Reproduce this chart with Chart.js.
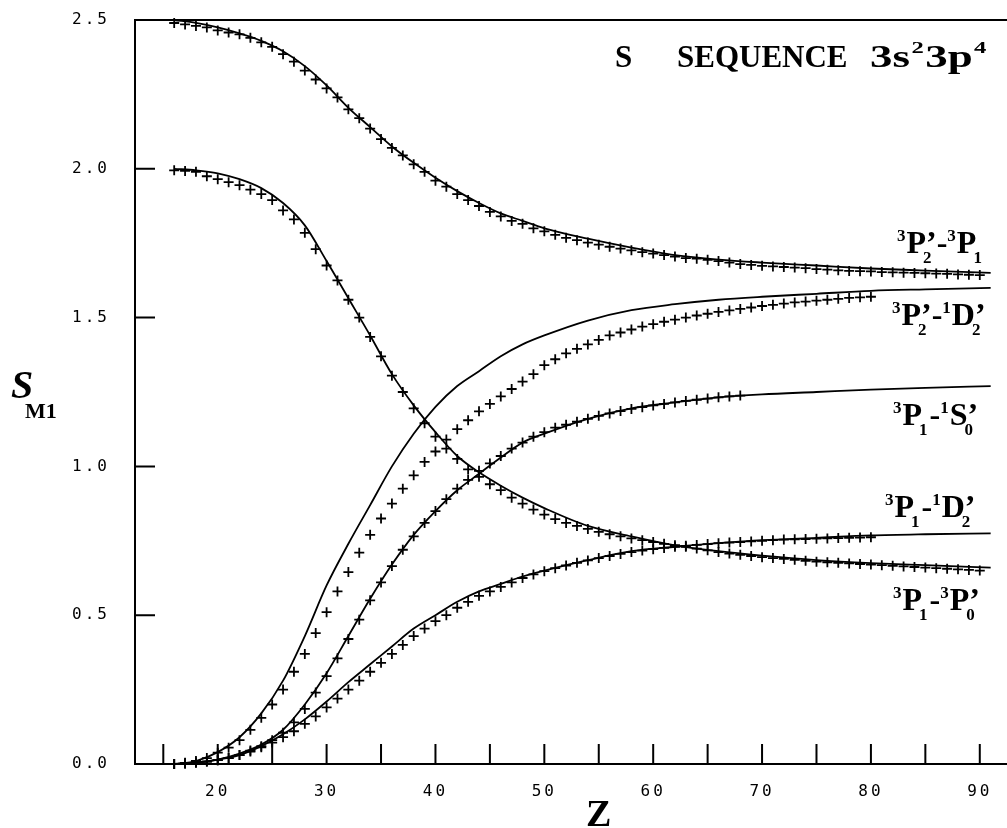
<!DOCTYPE html>
<html>
<head>
<meta charset="utf-8">
<script src="https://cdn.jsdelivr.net/npm/chart.js@4.4.1/dist/chart.umd.min.js"></script>
<style>
  html, body { margin: 0; padding: 0; background: #fff; }
  #wrap { width: 1007px; height: 828px; position: relative; }
</style>
</head>
<body>
<div id="wrap"><canvas id="chart"></canvas></div>
<script>
// Z values of the plotted points (+) and of the calculated curves
var zPoints = [16,17,18,19,20,21,22,23,24,25,26,27,28,29,30,31,32,33,34,35,
  36,37,38,39,40,41,42,43,44,45,46,47,48,49,50,51,52,53,54,55,
  56,57,58,59,60,61,62,63,64,65,66,67,68,69,70,71,72,73,74,75,
  76,77,78,79,80,81,82,83,84,85,86,87,88,89,90];
var zCurve = [16,18,20,22,24,26,28,30,32,34,36,38,40,42,44,46,48,50,54,58,62,66,70,75,80,85,91];

// 3P'2 - 3P1
var p2p1Curve = [2.50,2.49,2.475,2.455,2.43,2.395,2.345,2.28,2.205,2.14,2.075,2.02,1.97,1.925,1.885,1.85,1.825,1.80,1.765,1.735,1.71,1.695,1.685,1.675,1.665,1.658,1.65];
var p2p1Points = [2.49,2.485,2.48,2.475,2.465,2.458,2.452,2.44,2.425,2.41,
  2.385,2.36,2.33,2.30,2.27,2.24,2.20,2.17,2.135,2.10,
  2.07,2.045,2.015,1.99,1.96,1.94,1.915,1.895,1.875,1.855,
  1.84,1.825,1.815,1.80,1.79,1.778,1.768,1.76,1.752,1.745,
  1.738,1.732,1.726,1.72,1.715,1.71,1.705,1.70,1.698,1.694,
  1.69,1.685,1.68,1.677,1.674,1.672,1.67,1.668,1.666,1.663,
  1.661,1.659,1.657,1.656,1.655,1.653,1.652,1.651,1.65,1.649,
  1.648,1.647,1.645,1.644,1.643];

// 3P1 - 3P'0
var p1p0Curve = [2.00,1.995,1.985,1.965,1.935,1.885,1.81,1.69,1.565,1.44,1.31,1.205,1.115,1.035,0.98,0.935,0.895,0.86,0.80,0.765,0.735,0.715,0.70,0.685,0.675,0.668,0.66];
var p1p0Points = [1.995,1.993,1.99,1.975,1.965,1.955,1.945,1.93,1.915,1.895,
  1.86,1.83,1.785,1.73,1.675,1.625,1.56,1.50,1.435,1.37,
  1.305,1.25,1.195,1.145,1.10,1.06,1.025,0.99,0.965,0.94,
  0.92,0.895,0.875,0.855,0.838,0.823,0.81,0.80,0.79,0.78,
  0.772,0.765,0.758,0.752,0.746,0.74,0.735,0.73,0.724,0.718,
  0.712,0.707,0.703,0.699,0.695,0.692,0.689,0.686,0.683,0.68,
  0.678,0.676,0.674,0.672,0.67,0.668,0.666,0.664,0.662,0.66,
  0.658,0.656,0.654,0.652,0.65];

// 3P'2 - 1D'2
var p2d2Curve = [0.0,0.01,0.04,0.09,0.17,0.28,0.43,0.60,0.74,0.87,1.00,1.11,1.20,1.27,1.32,1.37,1.41,1.44,1.49,1.525,1.545,1.56,1.57,1.58,1.59,1.595,1.60];
var p2d2Points = [0.0,0.004,0.01,0.02,0.038,0.055,0.08,0.115,0.155,0.20,
  0.25,0.31,0.37,0.44,0.51,0.58,0.645,0.71,0.77,0.825,
  0.875,0.925,0.97,1.015,1.05,1.09,1.125,1.155,1.185,1.21,
  1.235,1.26,1.285,1.31,1.34,1.36,1.38,1.395,1.41,1.425,
  1.44,1.45,1.46,1.47,1.478,1.486,1.493,1.50,1.507,1.513,
  1.519,1.524,1.529,1.534,1.539,1.543,1.547,1.551,1.554,1.557,
  1.56,1.563,1.566,1.568,1.57];

// 3P1 - 1S'0
var p1s0Curve = [0.0,0.005,0.015,0.035,0.065,0.115,0.20,0.305,0.43,0.555,0.67,0.77,0.85,0.92,0.975,1.03,1.08,1.11,1.16,1.195,1.215,1.232,1.242,1.25,1.258,1.264,1.27];
var p1s0Points = [0.0,0.002,0.005,0.008,0.013,0.02,0.03,0.045,0.06,0.08,
  0.105,0.14,0.185,0.24,0.295,0.355,0.42,0.485,0.55,0.61,
  0.665,0.72,0.765,0.81,0.85,0.89,0.925,0.955,0.985,1.01,
  1.035,1.06,1.08,1.10,1.115,1.13,1.14,1.15,1.16,1.17,
  1.178,1.186,1.193,1.199,1.205,1.21,1.215,1.22,1.224,1.228,
  1.232,1.235,1.238];

// 3P1 - 1D'2
var p1d2Curve = [0.0,0.005,0.015,0.03,0.06,0.10,0.15,0.21,0.275,0.335,0.395,0.455,0.50,0.545,0.58,0.605,0.63,0.65,0.685,0.715,0.73,0.742,0.752,0.76,0.768,0.772,0.775];
var p1d2Points = [0.0,0.002,0.004,0.008,0.013,0.02,0.03,0.042,0.056,0.072,
  0.09,0.11,0.135,0.16,0.19,0.22,0.25,0.28,0.31,0.34,
  0.37,0.40,0.43,0.455,0.48,0.50,0.525,0.545,0.565,0.58,
  0.595,0.61,0.625,0.637,0.648,0.658,0.667,0.676,0.684,0.692,
  0.699,0.706,0.712,0.717,0.722,0.726,0.73,0.733,0.736,0.739,
  0.742,0.744,0.746,0.748,0.75,0.752,0.754,0.755,0.756,0.757,
  0.758,0.759,0.76,0.761,0.762];

// inward tick marks on the frame
var xTicks = [15,20,25,30,35,40,45,50,55,60,65,70,75,80,85,90];
var yTicks = [0.5,1.0,1.5,2.0];

function pairs(xs, ys) {
  return ys.map(function(y, i) { return { x: xs[i], y: y }; });
}

function curveSet(ys) {
  return {
    data: pairs(zCurve, ys),
    showLine: true,
    borderColor: '#000',
    borderWidth: 1.8,
    pointRadius: 0,
    cubicInterpolationMode: 'monotone',
    clip: false
  };
}

function pointSet(ys) {
  return {
    data: pairs(zPoints, ys),
    showLine: false,
    pointStyle: 'cross',
    pointRadius: 5,
    pointBorderWidth: 1.8,
    borderColor: '#000',
    backgroundColor: '#000',
    clip: false
  };
}

var serif = '"Liberation Serif", "Times New Roman", serif';

// draws a term label like 3P'2-1D'2 with super/subscripts
function drawTerm(ctx, parts, x, y) {
  var big = 'bold 32px ' + serif;
  var small = 'bold 17px ' + serif;
  var anchor = x;
  parts.forEach(function(p) {
    var t = p[0], k = p[1];
    if (k === 'sup') {
      ctx.font = small;
      ctx.fillText(t, x, y - 12);
      x += ctx.measureText(t).width + 1;
    } else if (k === 'sub') {
      ctx.font = small;
      ctx.fillText(t, anchor - 3, y + 10);
      x = Math.max(x, anchor - 3 + ctx.measureText(t).width + 2);
    } else {
      ctx.font = big;
      ctx.fillText(t, x, y);
      x += ctx.measureText(t).width;
      anchor = x;
      if (k === 'prime') anchor = x - ctx.measureText(t).width;
    }
  });
}

// chart.js adds tick padding around the plot; the frame must sit at fixed edges
function noPad(s) {
  s.paddingTop = 0; s.paddingBottom = 0; s.paddingLeft = 0; s.paddingRight = 0;
}

var framePlugin = {
  id: 'frame',
  beforeDraw: function(chart) {
    var ctx = chart.ctx;
    ctx.save();
    ctx.fillStyle = '#fff';
    ctx.fillRect(0, 0, chart.width, chart.height);
    ctx.restore();
    ctx.letterSpacing = '3px';
  },
  afterDraw: function(chart) {
    var ctx = chart.ctx;
    var a = chart.chartArea;
    var xs = chart.scales.x, ys = chart.scales.y;
    ctx.save();
    ctx.letterSpacing = '0px';
    ctx.strokeStyle = '#000';
    ctx.lineWidth = 2;
    ctx.beginPath();
    ctx.moveTo(chart.width, a.top);
    ctx.lineTo(a.left, a.top);
    ctx.lineTo(a.left, a.bottom);
    ctx.lineTo(chart.width, a.bottom);
    xTicks.forEach(function(v) {
      var px = xs.getPixelForValue(v);
      ctx.moveTo(px, a.bottom);
      ctx.lineTo(px, a.bottom - 20);
    });
    yTicks.forEach(function(v) {
      var py = ys.getPixelForValue(v);
      ctx.moveTo(a.left, py);
      ctx.lineTo(a.left + 20, py);
    });
    ctx.stroke();

    ctx.fillStyle = '#000';
    ctx.textBaseline = 'alphabetic';
    ctx.textAlign = 'left';

    // sequence title
    ctx.font = 'bold 31px ' + serif;
    ctx.fillText('S', 615, 67);
    ctx.fillText('SEQUENCE', 677, 67);
    ctx.save();
    ctx.translate(870, 67);
    ctx.scale(1.45, 1);
    var tx = 0;
    ctx.fillText('3s', tx, 0); tx += ctx.measureText('3s').width + 1;
    ctx.font = 'bold 17px ' + serif;
    ctx.fillText('2', tx, -14); tx += ctx.measureText('2').width + 1;
    ctx.font = 'bold 31px ' + serif;
    ctx.fillText('3p', tx, 0); tx += ctx.measureText('3p').width + 1;
    ctx.font = 'bold 17px ' + serif;
    ctx.fillText('4', tx, -14);
    ctx.restore();

    // term labels
    drawTerm(ctx, [['3','sup'],['P','n'],['\u2019','prime'],['2','sub'],['-','n'],['3','sup'],['P','n'],['1','sub']], 897, 253);
    drawTerm(ctx, [['3','sup'],['P','n'],['\u2019','prime'],['2','sub'],['-','n'],['1','sup'],['D','n'],['\u2019','prime'],['2','sub']], 892, 325);
    drawTerm(ctx, [['3','sup'],['P','n'],['1','sub'],['-','n'],['1','sup'],['S','n'],['\u2019','prime'],['0','sub']], 893, 425);
    drawTerm(ctx, [['3','sup'],['P','n'],['1','sub'],['-','n'],['1','sup'],['D','n'],['\u2019','prime'],['2','sub']], 885, 517);
    drawTerm(ctx, [['3','sup'],['P','n'],['1','sub'],['-','n'],['3','sup'],['P','n'],['\u2019','prime'],['0','sub']], 893, 610);

    // axis titles
    ctx.font = 'italic bold 40px ' + serif;
    ctx.fillText('S', 11, 398);
    ctx.font = 'bold 22px ' + serif;
    ctx.fillText('M1', 25, 418);
    ctx.font = 'bold 38px ' + serif;
    ctx.fillText('Z', 586, 826);
    ctx.restore();
  }
};

var tickFont = { family: '"DejaVu Sans Mono", monospace', size: 16 };

new Chart(document.getElementById('chart'), {
  type: 'scatter',
  data: {
    datasets: [
      curveSet(p2p1Curve), pointSet(p2p1Points),
      curveSet(p1p0Curve), pointSet(p1p0Points),
      curveSet(p2d2Curve), pointSet(p2d2Points),
      curveSet(p1s0Curve), pointSet(p1s0Points),
      curveSet(p1d2Curve), pointSet(p1d2Points)
    ]
  },
  options: {
    responsive: true,
    maintainAspectRatio: false,
    animation: false,
    layout: { autoPadding: false, padding: { top: 20, right: 0, bottom: 0, left: 0 } },
    plugins: { legend: { display: false }, tooltip: { enabled: false } },
    scales: {
      x: {
        type: 'linear',
        min: 12.4,
        max: 92.5,
        grid: { display: false },
        border: { display: false },
        afterFit: function(s) { s.height = 64; noPad(s); },
        ticks: {
          stepSize: 5,
          includeBounds: false,
          autoSkip: false,
          maxRotation: 0,
          padding: 10,
          color: '#000',
          font: tickFont,
          callback: function(v) { return v % 10 === 0 ? String(v) : ''; }
        }
      },
      y: {
        min: 0,
        max: 2.5,
        grid: { display: false },
        border: { display: false },
        afterFit: function(s) { s.width = 135; noPad(s); },
        ticks: {
          stepSize: 0.5,
          padding: 17,
          color: '#000',
          font: tickFont,
          callback: function(v) { return v.toFixed(1); }
        }
      }
    }
  },
  plugins: [framePlugin]
});
</script>
</body>
</html>
